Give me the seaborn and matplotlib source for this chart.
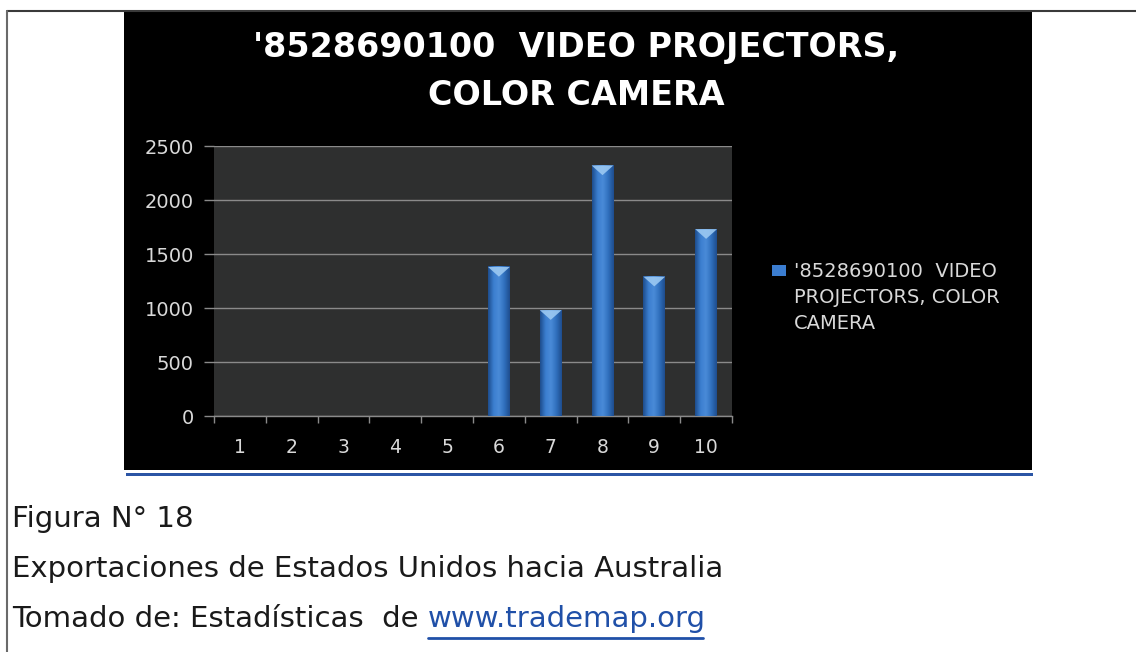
import numpy as np
import matplotlib
matplotlib.use("Agg")
import matplotlib.pyplot as plt
import seaborn as sns
from matplotlib.patches import Rectangle, Polygon, Patch
from matplotlib.lines import Line2D
from matplotlib.colors import LinearSegmentedColormap

# ---- data ----
categories = ["1", "2", "3", "4", "5", "6", "7", "8", "9", "10"]
values = [0, 0, 0, 0, 0, 1380, 980, 2320, 1290, 1730]
y_ticks = [0, 500, 1000, 1500, 2000, 2500]
title_lines = ["'8528690100  VIDEO PROJECTORS,", "COLOR CAMERA"]
legend_label = "'8528690100  VIDEO\nPROJECTORS, COLOR\nCAMERA"
caption_lines = ["Figura N° 18",
                 "Exportaciones de Estados Unidos hacia Australia",
                 "Tomado de: Estadísticas  de "]
link_text = "www.trademap.org"

sns.set_theme(style="dark")
plt.rcParams['font.family'] = ['DejaVu Sans']

W, H = 1136, 652
fig = plt.figure(figsize=(W / 100, H / 100), dpi=100)
fig.patch.set_facecolor('white')


def fx(x):
    return x / W


def fy(y):
    return 1 - y / H


# page frame lines
fig.add_artist(Line2D([fx(7), fx(1136)], [fy(10.5), fy(10.5)], transform=fig.transFigure,
                      color='#3a3a3a', lw=1.5))
fig.add_artist(Line2D([fx(7), fx(7)], [fy(10.5), fy(652)], transform=fig.transFigure,
                      color='#6a6a6a', lw=1.5))
# black chart panel
fig.add_artist(Rectangle((fx(124), fy(470)), fx(1032) - fx(124), fy(10) - fy(470),
                         transform=fig.transFigure, facecolor='black', edgecolor='none', zorder=0))
# blue rule below
fig.add_artist(Rectangle((fx(126), fy(476)), fx(1033) - fx(126), fy(473) - fy(476),
                         transform=fig.transFigure, facecolor='#2b55a5', edgecolor='none'))

# ---- axes ----
ax = fig.add_axes([fx(214), fy(416), (732 - 214) / W, (416 - 146) / H])
ax.set_facecolor('#2e2f2f')
sns.barplot(x=categories, y=values, order=categories, color='#2e6bbd', width=0.42,
            saturation=1, ax=ax, zorder=2, linewidth=0, edgecolor='none')

cmap = LinearSegmentedColormap.from_list('bar', ['#1d4c8c', '#3b7ecf', '#4a8bd8', '#3070bd', '#1e4d8e'])
grad = np.linspace(0, 1, 64).reshape(1, -1)
for p in list(ax.patches):
    h = p.get_height()
    if h <= 0:
        p.set_visible(False)
        continue
    x0 = p.get_x()
    w = p.get_width()
    ax.imshow(grad, extent=[x0, x0 + w, 0, h], aspect='auto', cmap=cmap, zorder=3,
              interpolation='bicubic')
    ax.add_patch(Polygon([[x0, h], [x0 + w, h], [x0 + w * 0.5, h - 90]], closed=True,
                         facecolor='#9cc9f2', edgecolor='none', zorder=4, alpha=0.9))

ax.set_xlim(-0.5, 9.5)
ax.set_ylim(0, 2500)
ax.set_yticks(y_ticks)
ax.set_xticks(range(len(categories)))
ax.set_xticklabels(categories)
ax.set_xticks(np.arange(-0.5, len(categories), 1), minor=True)

ax.yaxis.grid(True, color='#8a8a8a', lw=1)
ax.xaxis.grid(False)
ax.set_axisbelow(True)
ax.set_xlabel('')
ax.set_ylabel('')

ax.tick_params(axis='y', left=True, length=7.5, width=1, color='#8a8a8a', pad=7,
               labelcolor='#d9d9d9', labelsize=14)
ax.tick_params(axis='x', which='major', bottom=True, length=0, pad=16,
               labelcolor='#d9d9d9', labelsize=13.5)
ax.tick_params(axis='x', which='minor', bottom=True, length=5, width=1, color='#8a8a8a')
for s in ['top', 'right', 'left']:
    ax.spines[s].set_visible(False)
ax.spines['bottom'].set_visible(True)
ax.spines['bottom'].set_color('#8a8a8a')
ax.spines['bottom'].set_linewidth(1)

# ---- legend ----
leg = fig.legend(handles=[Patch(facecolor='#3b7dd0', edgecolor='none')], labels=[legend_label],
                 loc='upper left', bbox_to_anchor=(fx(772), fy(262)), frameon=False,
                 fontsize=14, handlelength=0.7, handleheight=0.45, handletextpad=0.42,
                 borderaxespad=0, borderpad=0, labelcolor='#d9d9d9')
for t in leg.get_texts():
    t.set_linespacing(1.48)
hnd = leg.legend_handles[0]
hnd.set_y(hnd.get_y() + 20)

# ---- title ----
fig.text(fx(576), fy(57), title_lines[0], ha='center', va='baseline', fontsize=24,
         fontweight='bold', color='white')
fig.text(fx(576), fy(105), title_lines[1], ha='center', va='baseline', fontsize=24,
         fontweight='bold', color='white')

# ---- caption ----
cap_fam = ['DejaVu Sans']
baselines = [527, 577, 627]
cap_texts = []
for line, b in zip(caption_lines, baselines):
    cap_texts.append(fig.text(fx(12), fy(b), line, ha='left', va='baseline', fontsize=21,
                              family=cap_fam, color='#1a1a1a'))

fig.canvas.draw()
r = fig.canvas.get_renderer()
bb = cap_texts[2].get_window_extent(r)
lx = bb.x1 / W
lt = fig.text(lx, fy(627), link_text, ha='left', va='baseline', fontsize=21, family=cap_fam,
              color='#2050a8')
bb2 = lt.get_window_extent(r)
fig.add_artist(Line2D([bb2.x0 / W, (bb2.x1 - 3) / W], [fy(638), fy(638)], transform=fig.transFigure,
                      color='#2050a8', lw=2))

fig.savefig('out.png', dpi=100)
